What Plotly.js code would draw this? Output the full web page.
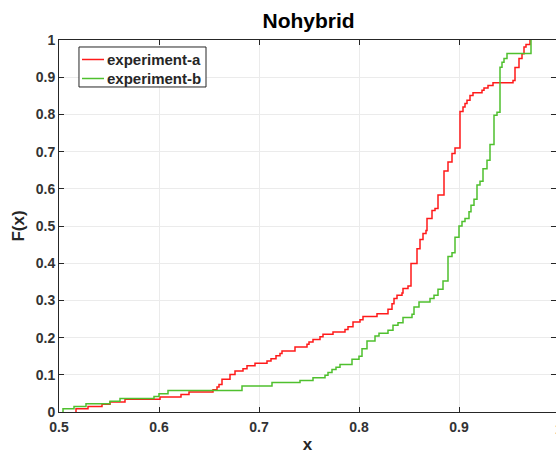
<!DOCTYPE html>
<html>
<head>
<meta charset="utf-8">
<script src="https://cdn.plot.ly/plotly-3.0.1.min.js"></script>
<style>html,body{margin:0;padding:0;background:#fff;}#chart{width:556px;height:455px;}</style>
</head>
<body>
<div id="chart"></div>
<script>
// experiment-a (red) empirical CDF steps: x where the step occurs, F(x) after the step
const expAx = [0.517,0.517,0.529,0.543,0.551,0.566,0.601,0.622,0.630,0.654,0.658,0.660,0.663,0.671,0.676,0.684,0.688,0.696,0.708,0.712,0.717,0.721,0.723,0.736,0.748,0.750,0.754,0.761,0.764,0.774,0.786,0.789,0.794,0.801,0.804,0.818,0.829,0.833,0.835,0.838,0.843,0.844,0.849,0.852,0.858,0.861,0.864,0.867,0.868,0.873,0.876,0.879,0.885,0.889,0.893,0.896,0.901,0.904,0.906,0.908,0.911,0.914,0.923,0.925,0.929,0.934,0.954,0.956,0.960,0.963,0.965,0.967,0.971];
const expAy = [0,0.009,0.015,0.021,0.027,0.034,0.040,0.047,0.054,0.060,0.067,0.074,0.088,0.101,0.110,0.116,0.124,0.131,0.137,0.143,0.151,0.157,0.164,0.175,0.182,0.188,0.195,0.202,0.209,0.215,0.222,0.229,0.242,0.248,0.257,0.264,0.276,0.291,0.305,0.314,0.320,0.332,0.339,0.399,0.439,0.464,0.480,0.488,0.520,0.542,0.547,0.583,0.648,0.672,0.695,0.710,0.808,0.820,0.829,0.838,0.851,0.858,0.865,0.871,0.878,0.885,0.891,0.926,0.950,0.963,0.981,0.988,1.0];
// experiment-b (green)
const expBx = [0.504,0.504,0.515,0.527,0.551,0.561,0.595,0.600,0.609,0.683,0.713,0.741,0.754,0.766,0.769,0.773,0.777,0.781,0.793,0.800,0.803,0.808,0.816,0.820,0.829,0.834,0.839,0.844,0.853,0.855,0.860,0.871,0.875,0.879,0.884,0.889,0.893,0.896,0.900,0.903,0.906,0.910,0.912,0.915,0.918,0.921,0.924,0.928,0.931,0.935,0.938,0.941,0.943,0.945,0.948,0.972];
const expBy = [0,0.009,0.015,0.022,0.029,0.036,0.042,0.049,0.058,0.070,0.079,0.085,0.092,0.099,0.106,0.114,0.120,0.128,0.142,0.150,0.170,0.191,0.204,0.212,0.220,0.233,0.240,0.254,0.263,0.282,0.296,0.305,0.314,0.330,0.352,0.418,0.428,0.470,0.500,0.512,0.520,0.538,0.556,0.572,0.610,0.620,0.654,0.677,0.719,0.798,0.806,0.927,0.940,0.950,0.964,1.0];
const seriesNames = ['experiment-a', 'experiment-b'];
const seriesColors = ['#ff1a1a', '#4fc02e'];
const xTicks = [0.5,0.6,0.7,0.8,0.9];
const yTicks = [0,0.1,0.2,0.3,0.4,0.5,0.6,0.7,0.8,0.9,1];

const fontFam = "Liberation Sans, Arial, Helvetica, sans-serif";
const axisCol = '#262626';

const traces = [
  {x: expAx, y: expAy, type: 'scatter', mode: 'lines', name: seriesNames[0], showlegend: false,
   line: {color: seriesColors[0], width: 1.5, shape: 'hv'}},
  {x: expBx, y: expBy, type: 'scatter', mode: 'lines', name: seriesNames[1], showlegend: false,
   line: {color: seriesColors[1], width: 1.5, shape: 'hv'}}
];

const axisCommon = {
  showline: true, linecolor: axisCol, linewidth: 1, mirror: 'ticks',
  ticks: 'inside', ticklen: 5, tickcolor: axisCol, tickwidth: 1,
  showgrid: true, gridcolor: '#ebebeb', gridwidth: 1, zeroline: false,
  tickfont: {family: fontFam, size: 14, color: '#333', weight: 'bold'}
};

// MATLAB-style legend box (paper coordinates of the plot area)
const legX0 = 0.0402, legX1 = 0.2958, legY0 = 0.8737, legY1 = 0.9812;
const legRows = [0.9476, 0.8965];
const shapes = [{type: 'rect', xref: 'paper', yref: 'paper', x0: legX0, x1: legX1, y0: legY0, y1: legY1,
                 line: {color: axisCol, width: 1}, fillcolor: '#fff', layer: 'above'}];
const annotations = [];
seriesNames.forEach((nm, i) => {
  shapes.push({type: 'line', xref: 'paper', yref: 'paper', x0: 0.0463, x1: 0.0905, y0: legRows[i], y1: legRows[i],
               line: {color: seriesColors[i], width: 1.5}, layer: 'above'});
  annotations.push({text: nm, xref: 'paper', yref: 'paper', x: 0.0935, y: legRows[i],
                    xanchor: 'left', yanchor: 'middle', showarrow: false,
                    font: {family: fontFam, size: 15, color: '#262626', weight: 'bold'}});
});
annotations.push({text: '1', xref: 'paper', yref: 'paper', x: 1.006, y: 0, yshift: -17,
                  xanchor: 'center', yanchor: 'middle', showarrow: false,
                  font: {family: fontFam, size: 14, color: '#333', weight: 'bold'}});

const layout = {
  width: 556, height: 455,
  margin: {l: 59, r: 0, t: 40, b: 43},
  paper_bgcolor: '#fff', plot_bgcolor: '#fff',
  title: {text: 'Nohybrid', x: 0.555, xanchor: 'center', y: 0.955, yanchor: 'middle',
          font: {family: fontFam, size: 21, color: '#000', weight: 'bold'}},
  xaxis: Object.assign({}, axisCommon, {
    range: [0.5, 0.997], tickvals: xTicks, ticktext: xTicks.map(String), ticklabelstandoff: 2,
    title: {text: 'x', standoff: 4, font: {family: fontFam, size: 17, color: '#262626', weight: 'bold'}}
  }),
  yaxis: Object.assign({}, axisCommon, {
    range: [0, 1], tickvals: yTicks, ticktext: yTicks.map(String),
    title: {text: 'F(x)', standoff: 6, font: {family: fontFam, size: 17, color: '#262626', weight: 'bold'}}
  }),
  showlegend: false,
  shapes: shapes,
  annotations: annotations
};

Plotly.newPlot('chart', traces, layout, {displayModeBar: false, staticPlot: true});
</script>
</body>
</html>
